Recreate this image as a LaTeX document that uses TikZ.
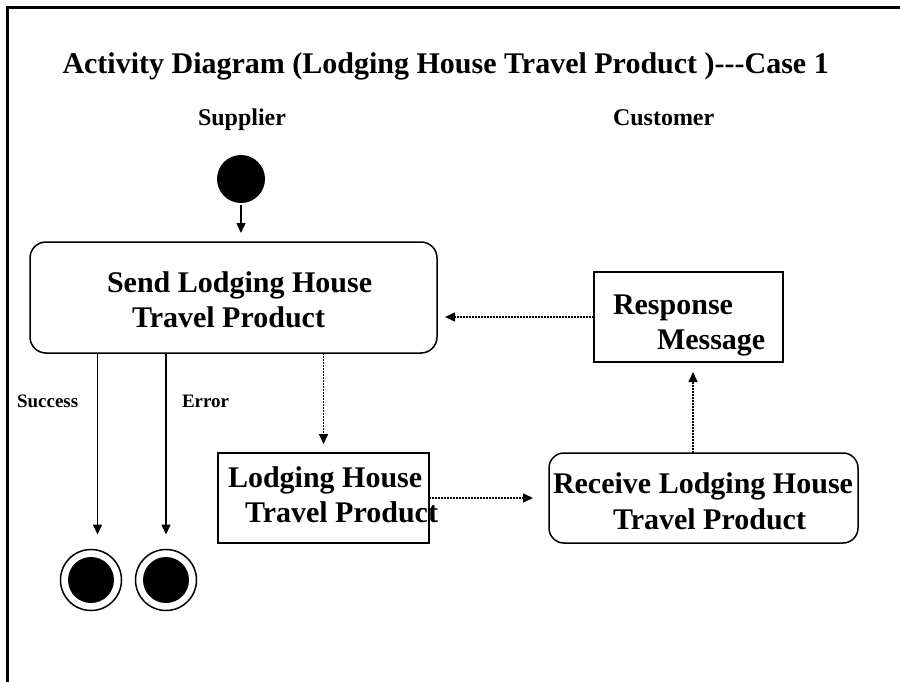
\documentclass[tikz,border=0pt]{standalone}
\usepackage{fontspec}
\setmainfont{Liberation Serif}
\usetikzlibrary{arrows.meta}
\tikzset{
  every node/.style={inner sep=0pt, outer sep=0pt},
  boxtxt/.style={anchor=base west, font=\fontsize{30}{35}\selectfont\bfseries},
  titletxt/.style={anchor=base west, font=\fontsize{30}{35}\selectfont\bfseries},
  lanetxt/.style={anchor=base west, font=\fontsize{24}{28}\selectfont\bfseries},
  flowtxt/.style={anchor=base west, font=\fontsize{19}{22}\selectfont\bfseries},
  actbox/.style={draw, line width=1.5pt, rounded corners=16pt},
  objbox/.style={draw, line width=1.5pt},
  initnode/.style={circle, fill=black, minimum size=48pt},
  finalnode/.style={circle, draw, line width=1.5pt, minimum size=61pt,
    path picture={\fill (path picture bounding box.center) circle (23pt);}},
  flow/.style={line width=1.5pt, -{Triangle[length=10pt,width=9pt]}},
  msg/.style={line width=1.6pt, dash pattern=on 1.6pt off 1.4pt, -{Triangle[length=10pt,width=9pt]}},
  frameline/.style={line width=3pt}
}
\begin{document}
\begin{tikzpicture}[x=1pt,y=-1pt]
\useasboundingbox (0,0) rectangle (900,682);
% frame
\coordinate (fa) at (7.5,682);
\coordinate (fb) at (7.5,8);
\coordinate (fc) at (900,8);
\draw[frameline] (fa) -- (fb) -- (fc);
% texts
\node[titletxt] (title) at (62.5,73.3) {Activity Diagram (Lodging House Travel Product )-{}-{}-Case 1};
\node[lanetxt] (supplier) at (198,126) {Supplier};
\node[lanetxt] (customer) at (613,126) {Customer};
% nodes
\node[initnode] (init) at (241,179) {};
\node[actbox, minimum width=407pt, minimum height=111pt] (send) at (233.5,297.5) {};
\node[boxtxt] (send1) at (107,292) {Send Lodging House};
\node[boxtxt] (send2) at (132,327) {Travel Product};
\node[finalnode] (fin1) at (91,580) {};
\node[finalnode] (fin2) at (166,580) {};
\node[objbox, minimum width=211pt, minimum height=90pt] (lodg) at (323.5,498) {};
\node[boxtxt] (lodg1) at (228,487) {Lodging House};
\node[boxtxt] (lodg2) at (245,522) {Travel Product};
\node[actbox, rounded corners=15pt, minimum width=309pt, minimum height=90pt] (recv) at (703.5,498) {};
\node[boxtxt] (recv1) at (553,493) {Receive Lodging House};
\node[boxtxt] (recv2) at (613,529) {Travel Product};
\node[objbox, minimum width=189pt, minimum height=90pt] (resp) at (688.5,317) {};
\node[boxtxt] (resp1) at (613,314) {Response};
\node[boxtxt] (resp2) at (657,349) {Message};
% connectors
\draw[flow, shorten <=2pt, shorten >=9pt] (init) -- (send.north -| init);
\draw[flow, shorten >=15pt] ([xshift=6.5pt]send.south -| fin1) -- ([xshift=6.5pt]fin1.north);
\draw[flow, shorten >=15pt] (send.south -| fin2) -- (fin2.north);
\node[flowtxt] (succ) at (17,407) {Success};
\node[flowtxt] (err) at (182,407) {Error};
\draw[msg, shorten >=9pt] (send.south -| lodg) -- (lodg.north);
\draw[msg, shorten >=16pt] (lodg.east) -- (recv.west);
\draw[msg, shorten >=10pt] ([xshift=-10.5pt]recv.north) -- ([xshift=4.5pt]resp.south);
\draw[msg, shorten >=8pt] (resp.west) -- (resp.west -| send.east);
\end{tikzpicture}
\end{document}
